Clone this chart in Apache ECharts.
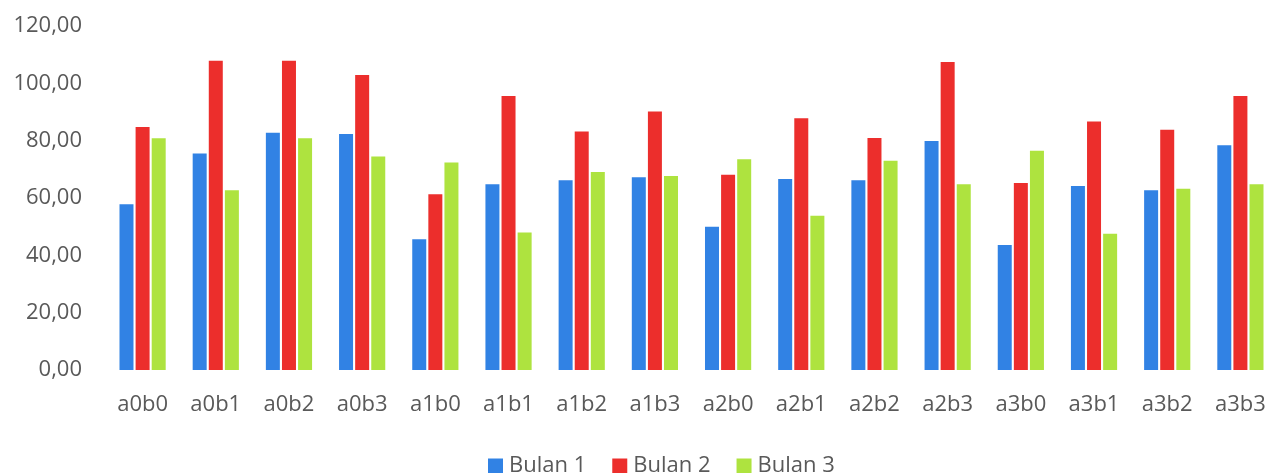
<!DOCTYPE html>
<html>
<head>
<meta charset="utf-8">
<title>Bulan 1–3</title>
<script src="https://cdn.jsdelivr.net/npm/echarts@6/dist/echarts.min.js"></script>
<style>
  html, body { margin: 0; padding: 0; background: #ffffff; }
  #chart { width: 1277px; height: 473px; }
</style>
</head>
<body>
<div id="chart"></div>
<script>
// Treatment combinations on the category axis
const categories = ['a0b0', 'a0b1', 'a0b2', 'a0b3', 'a1b0', 'a1b1', 'a1b2', 'a1b3',
                    'a2b0', 'a2b1', 'a2b2', 'a2b3', 'a3b0', 'a3b1', 'a3b2', 'a3b3'];

// Monthly values per treatment
const bulan1 = [57.8, 75.5, 82.8, 82.3, 45.6, 64.8, 66.2, 67.2, 50.0, 66.6, 66.2, 79.9, 43.6, 64.2, 62.7, 78.4];
const bulan2 = [84.8, 107.9, 107.9, 102.9, 61.3, 95.6, 83.2, 90.2, 68.1, 87.8, 80.9, 107.4, 65.2, 86.7, 83.8, 95.6];
const bulan3 = [80.8, 62.7, 80.8, 74.5, 72.4, 48.0, 69.1, 67.7, 73.5, 53.8, 73.0, 64.8, 76.5, 47.5, 63.2, 64.8];

const seriesNames = ['Bulan 1', 'Bulan 2', 'Bulan 3'];
const seriesColors = ['#3182E4', '#EC2E2C', '#AEE33F'];

// Value axis ticks
const yMin = 0;
const yMax = 120;
const yStep = 20;

const textColor = '#595959';
const fontFamily = '"Open Sans", "Noto Sans", sans-serif';

const chart = echarts.init(document.getElementById('chart'), null, { renderer: 'canvas' });

const barStyle = (name, values, color) => ({
  name: name,
  type: 'bar',
  data: values,
  barWidth: 14,
  barGap: '15%',
  itemStyle: { color: color },
  emphasis: { disabled: true }
});

chart.setOption({
  animation: false,
  backgroundColor: '#ffffff',
  textStyle: { fontFamily: fontFamily, color: textColor },
  grid: { left: 106, right: -10, top: 26, bottom: 103, containLabel: false },
  legend: {
    data: seriesNames,
    left: 483,
    top: 450,
    itemWidth: 15,
    itemHeight: 15,
    itemGap: 26,
    icon: 'rect',
    textStyle: { fontFamily: fontFamily, fontSize: 22, color: textColor, padding: [0, 0, 0, 1] }
  },
  xAxis: {
    type: 'category',
    data: categories,
    axisLine: { show: false },
    axisTick: { show: false },
    axisLabel: { fontFamily: fontFamily, fontSize: 22, color: textColor, margin: 24, interval: 0 },
    splitLine: { show: false }
  },
  yAxis: {
    type: 'value',
    min: yMin,
    max: yMax,
    interval: yStep,
    axisLine: { show: false },
    axisTick: { show: false },
    splitLine: { show: false },
    axisLabel: {
      fontFamily: fontFamily,
      fontSize: 22,
      color: textColor,
      margin: 24,
      formatter: v => v.toFixed(2).replace('.', ',')
    }
  },
  series: [
    barStyle(seriesNames[0], bulan1, seriesColors[0]),
    barStyle(seriesNames[1], bulan2, seriesColors[1]),
    barStyle(seriesNames[2], bulan3, seriesColors[2])
  ]
});
</script>
</body>
</html>
